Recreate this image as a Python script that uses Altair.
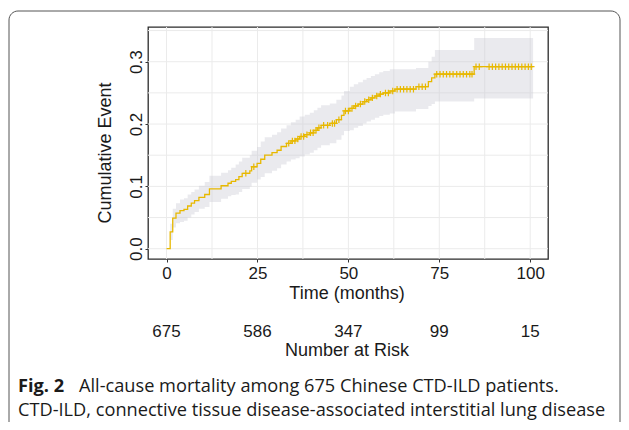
import altair as alt
import pandas as pd
import numpy as np

# ---- data ----
step_time = [0, 1.0, 1.7, 2.6, 3.7, 4.8, 5.8, 6.8, 7.7, 8.9, 10.5, 11.8, 15.0, 16.9, 17.8,
             19.0, 19.9, 20.8, 22.9, 23.4, 24.9, 25.9, 27.0, 29.0, 30.4, 31.5, 33.0, 34.2,
             35.5, 36.6, 38.0, 39.4, 40.5, 41.5, 42.5, 44.9, 46.7, 48.1, 48.8, 50.4, 51.5,
             52.7, 54.0, 55.0, 56.2, 57.3, 58.5, 59.6, 61.4, 62.8, 68.6, 72.0, 72.9, 73.8,
             84.6, 100.8]
cum_event = [0, 0.027, 0.049, 0.057, 0.061, 0.063, 0.0685, 0.073, 0.077, 0.0825, 0.087,
             0.096, 0.101, 0.105, 0.108, 0.111, 0.1155, 0.121, 0.125, 0.1315, 0.137, 0.1435,
             0.150, 0.154, 0.158, 0.164, 0.169, 0.173, 0.176, 0.180, 0.183, 0.186, 0.190,
             0.194, 0.198, 0.201, 0.207, 0.214, 0.221, 0.225, 0.229, 0.232, 0.236, 0.239,
             0.242, 0.245, 0.248, 0.250, 0.253, 0.256, 0.260, 0.268, 0.274, 0.280, 0.292,
             0.292]
ci_lower = [0, 0.014, 0.034, 0.041, 0.043, 0.045, 0.050, 0.055, 0.059, 0.064, 0.067, 0.075,
            0.080, 0.084, 0.086, 0.087, 0.091, 0.096, 0.100, 0.106, 0.111, 0.115, 0.121,
            0.125, 0.129, 0.135, 0.140, 0.143, 0.145, 0.148, 0.151, 0.154, 0.158, 0.162,
            0.166, 0.169, 0.175, 0.182, 0.189, 0.190, 0.194, 0.197, 0.201, 0.204, 0.207,
            0.210, 0.213, 0.215, 0.217, 0.220, 0.224, 0.229, 0.232, 0.236, 0.241, 0.241]
ci_upper = [0, 0.040, 0.064, 0.073, 0.079, 0.081, 0.087, 0.091, 0.095, 0.101, 0.107, 0.117,
            0.122, 0.126, 0.130, 0.135, 0.140, 0.146, 0.150, 0.157, 0.163, 0.172, 0.179,
            0.183, 0.187, 0.193, 0.198, 0.203, 0.207, 0.212, 0.215, 0.218, 0.222, 0.226,
            0.230, 0.233, 0.239, 0.246, 0.253, 0.260, 0.264, 0.267, 0.271, 0.274, 0.277,
            0.280, 0.283, 0.285, 0.288, 0.288, 0.290, 0.300, 0.308, 0.319, 0.338, 0.338]
censor_time = [21.8, 24.0, 33.6, 34.6, 35.3, 36.1, 37.0, 37.7, 38.6, 39.6, 40.3, 41.1, 41.9,
               43.2, 44.3, 45.6, 46.2, 47.4, 49.2, 50.0, 51.0, 52.0, 53.3, 54.5, 55.6, 56.6,
               57.8, 58.8, 60.2, 61.0, 62.2, 63.4, 64.3, 65.2, 66.1, 67.0, 67.9, 69.4, 70.3,
               71.2, 74.3, 75.2, 76.1, 77.0, 77.9, 78.8, 79.8, 80.7, 81.6, 82.5, 83.4, 84.0,
               85.1, 86.0, 88.7, 89.6, 90.5, 91.4, 92.3, 93.2, 94.1, 95.0, 95.9, 96.8, 97.7,
               98.6, 99.5, 100.3]
x_ticks = [0, 25, 50, 75, 100]
x_grid = [0, 12.5, 25, 37.5, 50, 62.5, 75, 87.5, 100]
y_ticks = [0.0, 0.1, 0.2, 0.3]
y_grid = [0.0, 0.05, 0.1, 0.15, 0.2, 0.25, 0.3, 0.35]
risk_time = [0, 25, 50, 75, 100]
risk_n = [675, 586, 347, 99, 15]

caption_bold = "Fig. 2"
caption_1 = "All-cause mortality among 675 Chinese CTD-ILD patients."
caption_2 = "CTD-ILD, connective tissue disease-associated interstitial lung disease"

# ---- tables ----
curve = pd.DataFrame({"t": step_time, "e": cum_event, "lo": ci_lower, "hi": ci_upper})
idx = np.searchsorted(np.array(step_time), np.array(censor_time), side="right") - 1
cens = pd.DataFrame({"t": censor_time, "e": [cum_event[i] for i in idx]})
risk = pd.DataFrame({"t": risk_time, "n": [str(v) for v in risk_n]})
one = pd.DataFrame({"a": [0]})

FONT = "Liberation Sans"
YEL = "#E7B800"
GRID = "#EBEBEB"

xs = alt.Scale(domain=[-5.1, 104.9], nice=False, zero=False)
ys = alt.Scale(domain=[-0.0165, 0.3557], nice=False, zero=False)
xaxis = alt.Axis(values=x_ticks, grid=False, title=None, labelFont=FONT, labelFontSize=17,
                 labelColor="#1a1a1a", tickColor="#333333", tickSize=3, labelPadding=3,
                 domain=False, labelBaseline="top", format="d")
yaxis = alt.Axis(values=y_ticks, grid=False, title=None, labelFont=FONT, labelFontSize=17,
                 labelColor="#1a1a1a", tickColor="#333333", tickSize=3, labelPadding=4,
                 domain=False, labelAngle=270, labelAlign="center",
                 labelBaseline="alphabetic", format=".1f")

xgrid = alt.Chart(pd.DataFrame({"g": x_grid})).mark_rule(color=GRID, strokeWidth=1).encode(
    x=alt.X("g:Q", scale=xs, axis=xaxis))
ygrid = alt.Chart(pd.DataFrame({"g": y_grid})).mark_rule(color=GRID, strokeWidth=1).encode(
    y=alt.Y("g:Q", scale=ys, axis=yaxis))

band = alt.Chart(curve).mark_area(interpolate="step-after", color="#c9c9d2", opacity=0.38).encode(
    x=alt.X("t:Q", scale=xs, axis=xaxis),
    y=alt.Y("lo:Q", scale=ys, axis=yaxis),
    y2="hi:Q")
line = alt.Chart(curve).mark_line(interpolate="step-after", color=YEL, strokeWidth=1.3).encode(
    x=alt.X("t:Q", scale=xs, axis=xaxis),
    y=alt.Y("e:Q", scale=ys, axis=yaxis))
plus = alt.Chart(cens).mark_point(shape="M-1,0L1,0M0,-1L0,1", size=42, filled=False,
                                  color=YEL, strokeWidth=1.2, opacity=1).encode(
    x=alt.X("t:Q", scale=xs, axis=xaxis),
    y=alt.Y("e:Q", scale=ys, axis=yaxis))

risk_txt = alt.Chart(risk).mark_text(font=FONT, fontSize=17, color="#1a1a1a",
                                     baseline="middle").encode(
    x=alt.X("t:Q", scale=xs, axis=xaxis), y=alt.value(305), text="n:N")

def label(txt, x, y, size=18, angle=0, align="center", font=FONT, weight="normal"):
    return alt.Chart(one).mark_text(text=txt, font=font, fontSize=size, angle=angle,
                                    align=align, baseline="middle", color="#1a1a1a",
                                    fontWeight=weight).encode(
        x=alt.value(x), y=alt.value(y))

xtitle = label("Time (months)", 199, 267)
ytitle = label("Cumulative Event", -42, 126, angle=270)
risktitle = label("Number at Risk", 199, 324)
cap0 = label(caption_bold, -130, 360, size=18.2, align="left", font="Open Sans", weight="bold")
cap1 = label(caption_1, -69, 360, size=18.2, align="left", font="Open Sans")
cap2 = label(caption_2, -130, 384, size=18.2, align="left", font="Open Sans")

frame = alt.Chart(one).mark_rect(fillOpacity=0, stroke="#555555", strokeWidth=1,
                                 cornerRadius=9).encode(
    x=alt.value(-139), x2=alt.value(472), y=alt.value(-16), y2=alt.value(440))

chart = alt.layer(frame, xgrid, ygrid, band, line, plus, risk_txt, xtitle, ytitle,
                  risktitle, cap0, cap1, cap2).properties(
    width=400, height=232,
    autosize=alt.AutoSizeParams(type="none"),
    padding={"left": 140, "top": 19, "right": 73, "bottom": 163},
    background="white",
).configure_view(stroke="#2b2b2b", strokeWidth=1.3)

chart.save("out.html", embed_options={"renderer": "svg", "actions": False})
